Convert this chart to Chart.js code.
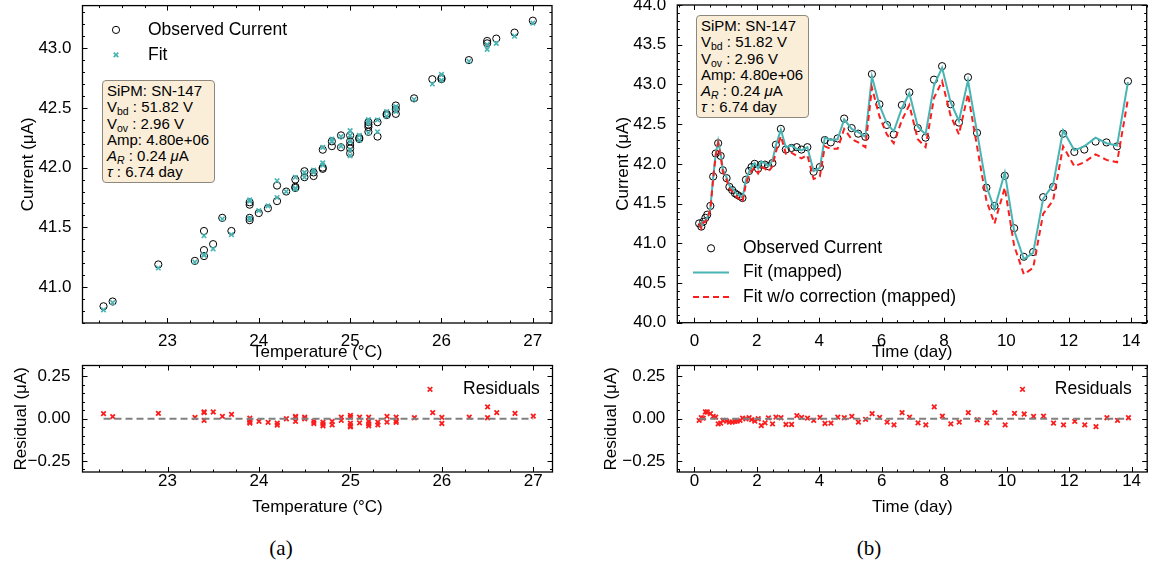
<!DOCTYPE html>
<html>
<head>
<meta charset="utf-8">
<script src="https://cdn.jsdelivr.net/npm/chart.js@4.4.1/dist/chart.umd.min.js"></script>
<style>
  body { margin:0; background:#fff; width:1153px; height:570px; position:relative; overflow:hidden;
         font-family:"Liberation Sans", Arial, Helvetica, sans-serif; }
  canvas { position:absolute; }
  .box { position:absolute; box-sizing:border-box; background:#faeed9; border:1px solid #8e877b; border-radius:4px;
         font-size:15px; line-height:16.3px; padding:2px 0 0 4px; color:#000; white-space:nowrap; }
  .box sub { font-size:10.5px; line-height:0; vertical-align:-3px; }
  .cap { position:absolute; top:536px; width:60px; margin-left:-30px; text-align:center;
         font-family:"Liberation Serif", "Times New Roman", serif; font-size:21px; line-height:24px; }
</style>
</head>
<body>
<canvas id="tempMain" width="560" height="363" style="left:0;top:0"></canvas>
<canvas id="timeMain" width="563" height="363" style="left:590px;top:0"></canvas>
<canvas id="tempResid" width="560" height="163" style="left:0;top:355px"></canvas>
<canvas id="timeResid" width="563" height="163" style="left:590px;top:355px"></canvas>

<div class="box" style="left:102px;top:80px;width:113px;height:103px">SiPM: SN-147<br>V<sub>bd</sub> : 51.82 V<br>V<sub>ov</sub> : 2.96 V<br>Amp: 4.80e+06<br><i>A<sub>R</sub></i> : 0.24 <i>μ</i>A<br><i>τ</i> : 6.74 day</div>
<div class="box" style="left:696px;top:15px;width:113px;height:103px">SiPM: SN-147<br>V<sub>bd</sub> : 51.82 V<br>V<sub>ov</sub> : 2.96 V<br>Amp: 4.80e+06<br><i>A<sub>R</sub></i> : 0.24 <i>μ</i>A<br><i>τ</i> : 6.74 day</div>

<div class="cap" style="left:281px">(a)</div>
<div class="cap" style="left:869px">(b)</div>

<script>
// temperature view (a)
const tempC = [22.3,22.4,22.9,23.3,23.4,23.4,23.4,23.5,23.6,23.7,
  23.9,23.9,23.9,23.9,24.0,24.1,24.2,24.2,24.3,24.4,
  24.4,24.4,24.5,24.5,24.6,24.6,24.7,24.7,24.7,24.8,
  24.8,24.9,24.9,25.0,25.0,25.0,25.0,25.0,25.1,25.1,
  25.2,25.2,25.2,25.2,25.3,25.3,25.4,25.4,25.5,25.5,
  25.5,25.7,25.9,26.0,26.0,26.3,26.5,26.5,26.6,26.8,
  27.0];
const tempObserved = [40.84,40.88,41.19,41.22,41.47,41.31,41.26,41.36,41.58,41.47,
  41.71,41.69,41.58,41.56,41.62,41.66,41.85,41.72,41.80,41.90,
  41.84,41.83,41.97,41.92,41.96,41.93,42.15,42.00,41.99,42.22,
  42.18,42.27,42.17,42.27,42.22,42.19,42.16,42.12,42.25,42.24,
  42.38,42.36,42.34,42.30,42.38,42.26,42.45,42.44,42.52,42.49,
  42.45,42.58,42.74,42.74,42.75,42.90,43.06,43.04,43.08,43.13,
  43.23];
const tempFit = [40.81,40.87,41.16,41.21,41.43,41.27,41.27,41.32,41.57,41.44,
  41.73,41.72,41.58,41.57,41.64,41.68,41.89,41.75,41.80,41.92,
  41.83,41.82,41.96,41.92,41.98,41.96,42.17,42.04,42.02,42.24,
  42.22,42.26,42.18,42.31,42.27,42.22,42.15,42.10,42.27,42.23,
  42.40,42.40,42.37,42.29,42.40,42.30,42.47,42.43,42.51,42.50,
  42.47,42.57,42.70,42.73,42.78,42.89,42.99,43.03,43.04,43.10,
  43.21];
const tempResidual = [0.030,0.012,0.032,0.008,0.040,0.036,-0.010,0.040,0.014,0.026,
  -0.020,-0.026,0.004,-0.010,-0.016,-0.022,-0.038,-0.026,0.000,-0.016,
  0.014,0.008,0.010,0.000,-0.016,-0.028,-0.020,-0.042,-0.032,-0.016,
  -0.036,0.010,-0.010,-0.040,-0.048,-0.026,0.010,0.020,-0.024,0.010,
  -0.016,-0.042,-0.030,0.010,-0.020,-0.036,-0.020,0.014,0.010,-0.014,
  -0.022,0.006,0.036,0.008,-0.028,0.010,0.070,0.006,0.036,0.032,
  0.016];

// time view (b)
const days = [0.15,0.22,0.28,0.35,0.41,0.51,0.60,0.68,0.76,0.84,
  0.91,1.03,1.12,1.21,1.30,1.37,1.46,1.54,1.65,1.75,
  1.83,1.93,2.04,2.14,2.26,2.37,2.50,2.61,2.77,2.93,
  3.11,3.28,3.43,3.62,3.82,4.02,4.18,4.37,4.59,4.80,
  5.04,5.25,5.48,5.69,5.93,6.17,6.39,6.65,6.89,7.16,
  7.41,7.68,7.94,8.21,8.48,8.77,9.06,9.36,9.62,9.95,
  10.25,10.56,10.86,11.18,11.50,11.82,12.18,12.50,12.86,13.21,
  13.55,13.90];
const observedByDay = [41.25,41.21,41.27,41.32,41.36,41.47,41.84,42.13,42.26,42.10,
  41.92,41.82,41.71,41.67,41.63,41.61,41.59,41.57,41.80,41.91,
  41.96,42.00,41.94,41.99,41.99,41.97,42.01,42.24,42.44,42.18,
  42.20,42.21,42.18,42.21,41.90,41.96,42.30,42.27,42.32,42.57,
  42.45,42.38,42.34,43.13,42.75,42.49,42.37,42.74,42.90,42.45,
  42.33,43.06,43.23,42.75,42.52,43.09,42.39,41.70,41.47,41.85,
  41.19,40.83,40.89,41.58,41.71,42.38,42.15,42.18,42.28,42.27,
  42.22,43.04];
const fitMapped = [41.26,41.20,41.27,41.28,41.32,41.44,41.83,42.12,42.29,42.13,
  41.93,41.83,41.73,41.69,41.65,41.62,41.60,41.57,41.80,41.90,
  41.97,42.01,41.94,42.03,42.01,41.97,42.04,42.23,42.43,42.21,
  42.23,42.19,42.17,42.21,41.91,41.95,42.33,42.30,42.31,42.56,
  42.44,42.40,42.34,43.10,42.74,42.51,42.41,42.70,42.89,42.47,
  42.37,42.99,43.21,42.78,42.54,43.05,42.40,41.72,41.43,41.89,
  41.16,40.80,40.88,41.56,41.74,42.42,42.17,42.22,42.33,42.26,
  42.23,43.03];
const fitNoCorrection = [41.25,41.19,41.26,41.27,41.31,41.42,41.81,42.10,42.26,42.10,
  41.90,41.80,41.69,41.65,41.61,41.58,41.55,41.52,41.75,41.85,
  41.91,41.95,41.88,41.96,41.94,41.90,41.97,42.15,42.35,42.13,
  42.14,42.10,42.07,42.11,41.81,41.84,42.22,42.19,42.19,42.44,
  42.31,42.27,42.21,42.96,42.60,42.37,42.26,42.55,42.74,42.31,
  42.21,42.83,43.04,42.61,42.37,42.88,42.22,41.54,41.25,41.70,
  40.97,40.61,40.69,41.37,41.54,42.22,41.97,42.02,42.12,42.05,
  42.02,42.82];
const residByDay = [-0.010,0.006,0.004,0.040,0.040,0.030,0.014,0.010,-0.030,-0.026,
  -0.010,-0.014,-0.020,-0.020,-0.016,-0.014,-0.010,0.004,0.000,0.006,
  -0.005,-0.014,0.000,-0.040,-0.024,0.005,-0.030,0.010,0.006,-0.034,
  -0.034,0.018,0.008,0.004,-0.010,0.008,-0.028,-0.026,0.010,0.006,
  0.014,-0.020,-0.004,0.030,0.008,-0.020,-0.036,0.036,0.010,-0.024,
  -0.036,0.070,0.016,-0.030,-0.020,0.036,-0.006,-0.024,0.036,-0.036,
  0.032,0.028,0.014,0.016,-0.026,-0.036,-0.016,-0.036,-0.046,0.006,
  -0.010,0.006];

// tick labels
const tempTicks = [23, 24, 25, 26, 27];
const dayTicks = [0, 2, 4, 6, 8, 10, 12, 14];
const currentTicksA = [41.0, 41.5, 42.0, 42.5, 43.0];
const currentTicksB = [40.0, 40.5, 41.0, 41.5, 42.0, 42.5, 43.0, 43.5, 44.0];
const residTicks = [-0.25, 0, 0.25];

const FONT = '"Liberation Sans", Arial, Helvetica, sans-serif';
const TEAL = 'rgb(72,180,180)';
const RED = 'rgb(250,30,30)';
Chart.defaults.font.family = FONT;
Chart.defaults.color = '#000';

const pts = (xs, ys) => xs.map((x, i) => ({ x: x, y: ys[i] }));

function drawMarker(ctx, kind, color, cx, cy) {
  ctx.save();
  ctx.strokeStyle = color;
  ctx.beginPath();
  if (kind === 'circle') {
    ctx.lineWidth = 1;
    ctx.arc(cx, cy, 3.6, 0, Math.PI * 2);
  } else if (kind === 'cross') {
    ctx.lineWidth = 1.7;
    const r = 2.3;
    ctx.moveTo(cx - r, cy - r); ctx.lineTo(cx + r, cy + r);
    ctx.moveTo(cx - r, cy + r); ctx.lineTo(cx + r, cy - r);
  } else {
    ctx.lineWidth = 2;
    if (kind === 'dash') ctx.setLineDash([6, 4]);
    ctx.moveTo(cx - 18, cy); ctx.lineTo(cx + 18, cy);
  }
  ctx.stroke();
  ctx.restore();
}

// box frame + inward ticks on all four sides, like the matplotlib original
const frameTicks = {
  id: 'frameTicks',
  afterDatasetsDraw(chart, args, opts) {
    const { ctx, chartArea: a, scales: { x, y } } = chart;
    const minorVals = (s, step) => {
      const out = [];
      for (let k = Math.ceil(s.min / step); k * step <= s.max + 1e-9; k++) out.push(k * step);
      return out;
    };
    const marks = (s, vals, len) => vals.forEach(v => {
      const p = Math.round(s.getPixelForValue(v)) + 0.5;
      if (s.isHorizontal()) {
        ctx.moveTo(p, a.bottom); ctx.lineTo(p, a.bottom - len);
        ctx.moveTo(p, a.top); ctx.lineTo(p, a.top + len);
      } else {
        ctx.moveTo(a.left, p); ctx.lineTo(a.left + len, p);
        ctx.moveTo(a.right, p); ctx.lineTo(a.right - len, p);
      }
    });
    ctx.save();
    ctx.strokeStyle = '#000';
    ctx.lineWidth = 1;
    ctx.beginPath();
    marks(x, minorVals(x, opts.xMinor), 2.5);
    marks(y, minorVals(y, opts.yMinor), 2.5);
    marks(x, x.ticks.map(t => t.value), 5);
    marks(y, y.ticks.map(t => t.value), 5);
    ctx.stroke();
    ctx.lineWidth = 1.3;
    ctx.strokeRect(a.left, a.top, a.right - a.left, a.bottom - a.top);
    ctx.restore();
  }
};

const panelLegend = {
  id: 'panelLegend',
  afterDraw(chart, args, opts) {
    const { ctx, chartArea: a } = chart;
    ctx.save();
    ctx.font = '17.5px ' + FONT;
    ctx.fillStyle = '#000';
    ctx.textBaseline = 'middle';
    opts.items.forEach((it, i) => {
      const cy = a.top + opts.y + i * opts.dy;
      drawMarker(ctx, it.kind, it.color, a.left + opts.x, cy);
      ctx.fillText(it.text, a.left + opts.textX, cy);
    });
    ctx.restore();
  }
};

function axis(o) {
  const horiz = o.position === 'bottom';
  return {
    type: 'linear', position: o.position, min: o.min, max: o.max,
    grid: { display: false }, border: { display: false },
    afterBuildTicks: s => { s.ticks = o.ticks.map(v => ({ value: v })); },
    afterFit: s => {
      // fixed box sizes, and no extra room for labels that overhang the plot
      if (horiz) { s.height = o.size; s.paddingLeft = 0; s.paddingRight = 0; }
      else { s.width = o.size; s.paddingTop = 0; s.paddingBottom = 0; }
    },
    ticks: { color: '#000', font: { size: 17 }, padding: o.pad, autoSkip: false, maxRotation: 0, callback: o.fmt },
    title: { display: true, text: o.title, color: '#000', font: { size: 17 },
             padding: horiz ? { top: 0, bottom: 0 } : { top: o.titlePad, bottom: 0 } }
  };
}

function panel(id, c) {
  return new Chart(document.getElementById(id), {
    type: 'scatter',
    data: { datasets: c.datasets },
    options: {
      responsive: false, animation: false, devicePixelRatio: 1,
      layout: { padding: c.padding },
      plugins: { legend: { display: false }, tooltip: { enabled: false },
                 panelLegend: c.legend, frameTicks: c.minor },
      scales: { x: c.x, y: c.y }
    },
    plugins: [frameTicks, panelLegend]
  });
}

const fmt1 = v => v.toFixed(1);
const fmtInt = v => String(v);
const fmtResid = v => (v < 0 ? '\u2212' : '') + Math.abs(v).toFixed(2);
const circleStyle = { pointStyle: 'circle', pointRadius: 3.6, borderWidth: 1, borderColor: '#000', backgroundColor: 'rgba(0,0,0,0)' };
const redCross = { pointStyle: 'crossRot', pointRadius: 3.2, borderWidth: 1.8, borderColor: RED, backgroundColor: RED };

panel('tempMain', {
  padding: { top: 4, right: 8, left: 0, bottom: 0 },
  datasets: [
    { label: 'Fit', data: pts(tempC, tempFit), pointStyle: 'crossRot', pointRadius: 3.2, borderWidth: 1.6,
      borderColor: TEAL, backgroundColor: TEAL, order: 0 },
    Object.assign({ label: 'Observed Current', data: pts(tempC, tempObserved), order: 1 }, circleStyle)
  ],
  x: axis({ position: 'bottom', min: 22.07, max: 27.21, ticks: tempTicks, size: 40, pad: 0, fmt: fmtInt, title: 'Temperature (°C)' }),
  y: axis({ position: 'left', min: 40.70, max: 43.356, ticks: currentTicksA, size: 82.5, pad: 3, fmt: fmt1, title: 'Current (μA)', titlePad: 18 }),
  minor: { xMinor: 0.25, yMinor: 0.1 },
  legend: { x: 33.5, textX: 65.5, y: 24.3, dy: 25, items: [
    { kind: 'circle', color: '#000', text: 'Observed Current' },
    { kind: 'cross', color: TEAL, text: 'Fit' }
  ] }
});

panel('timeMain', {
  padding: { top: 5, right: 6.3, left: 0, bottom: 0 },
  datasets: [
    { label: 'Fit w/o correction (mapped)', data: pts(days, fitNoCorrection), showLine: true, pointRadius: 0,
      borderColor: RED, borderWidth: 2, borderDash: [6, 4], order: 0 },
    { label: 'Fit (mapped)', data: pts(days, fitMapped), showLine: true, pointRadius: 0,
      borderColor: TEAL, borderWidth: 2, order: 1 },
    Object.assign({ label: 'Observed Current', data: pts(days, observedByDay), order: 2 }, circleStyle)
  ],
  x: axis({ position: 'bottom', min: -0.55, max: 14.5, ticks: dayTicks, size: 40.3, pad: 0, fmt: fmtInt, title: 'Time (day)' }),
  y: axis({ position: 'left', min: 40, max: 44, ticks: currentTicksB, size: 87.3, pad: 3, fmt: fmt1, title: 'Current (μA)', titlePad: 23 }),
  minor: { xMinor: 0.5, yMinor: 0.1 },
  legend: { x: 33.7, textX: 65.7, y: 243.3, dy: 24.3, items: [
    { kind: 'circle', color: '#000', text: 'Observed Current' },
    { kind: 'line', color: TEAL, text: 'Fit (mapped)' },
    { kind: 'dash', color: RED, text: 'Fit w/o correction (mapped)' }
  ] }
});

panel('tempResid', {
  padding: { top: 10.5, right: 7.5, left: 0, bottom: 0 },
  datasets: [
    { data: [{ x: tempC[0], y: 0 }, { x: tempC[tempC.length - 1], y: 0 }], showLine: true, pointRadius: 0,
      borderColor: '#808080', borderWidth: 2, borderDash: [7, 4], order: 0 },
    Object.assign({ label: 'Residuals', data: pts(tempC, tempResidual), order: 1 }, redCross)
  ],
  x: axis({ position: 'bottom', min: 22.07, max: 27.21, ticks: tempTicks, size: 46, pad: -9, fmt: fmtInt, title: 'Temperature (°C)' }),
  y: axis({ position: 'left', min: -0.315, max: 0.315, ticks: residTicks, size: 82.5, pad: 4, fmt: fmtResid, title: 'Residual (μA)', titlePad: 11.3 }),
  minor: { xMinor: 0.25, yMinor: 0.05 },
  legend: { x: 347.5, textX: 380.5, y: 23.8, dy: 0, items: [
    { kind: 'cross', color: RED, text: 'Residuals' }
  ] }
});

panel('timeResid', {
  padding: { top: 10.5, right: 5.5, left: 0, bottom: 0 },
  datasets: [
    { data: [{ x: days[0], y: 0 }, { x: days[days.length - 1], y: 0 }], showLine: true, pointRadius: 0,
      borderColor: '#808080', borderWidth: 2, borderDash: [7, 4], order: 0 },
    Object.assign({ label: 'Residuals', data: pts(days, residByDay), order: 1 }, redCross)
  ],
  x: axis({ position: 'bottom', min: -0.55, max: 14.5, ticks: dayTicks, size: 46, pad: -9, fmt: fmtInt, title: 'Time (day)' }),
  y: axis({ position: 'left', min: -0.315, max: 0.315, ticks: residTicks, size: 87.3, pad: 4, fmt: fmtResid, title: 'Residual (μA)', titlePad: 11.3 }),
  minor: { xMinor: 0.5, yMinor: 0.05 },
  legend: { x: 345.2, textX: 377.5, y: 23.8, dy: 0, items: [
    { kind: 'cross', color: RED, text: 'Residuals' }
  ] }
});
</script>
</body>
</html>
